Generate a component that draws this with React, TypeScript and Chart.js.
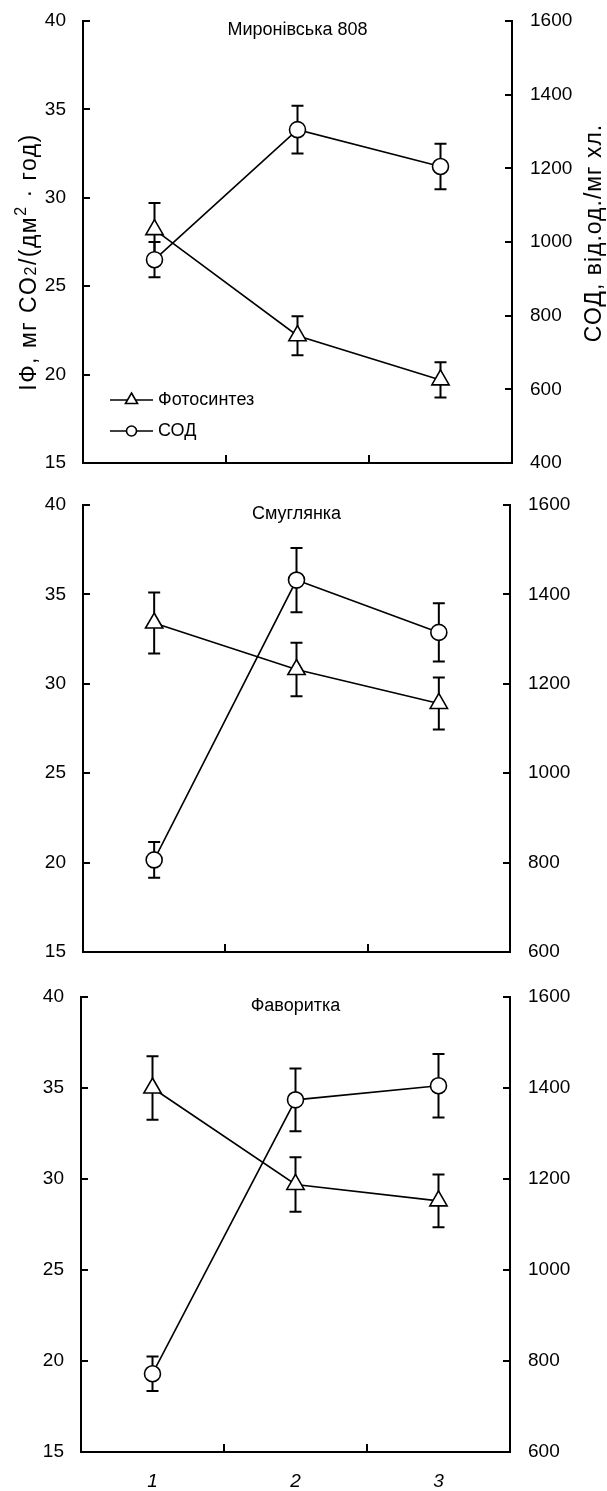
import React, { useEffect, useRef } from 'react';
import { Chart, registerables } from 'chart.js';

Chart.register(...registerables);

// ---------- data ----------
const categories = ['1', '2', '3'];
const panelTitles = ['Миронівська 808', 'Смуглянка', 'Фаворитка'];
const legendLabels = ['Фотосинтез', 'СОД'];
const leftAxisTitleParts = ['ІФ, мг CO', '2', '/(дм', '2', ' · год)'];
const rightAxisTitle = 'СОД, від.од./мг хл.';

const leftTicks = [15, 20, 25, 30, 35, 40];
const rightTicksTop = [400, 600, 800, 1000, 1200, 1400, 1600];
const rightTicksLower = [600, 800, 1000, 1200, 1400, 1600];

const photoMyr = [28.2, 22.2, 19.7];
const photoMyrErr = [1.5, 1.1, 1.0];
const sodMyr = [952, 1305, 1205];
const sodMyrErr = [48, 65, 62];

const photoSmu = [33.4, 30.8, 28.9];
const photoSmuErr = [1.7, 1.5, 1.45];
const sodSmu = [806, 1432, 1315];
const sodSmuErr = [40, 72, 65];

const photoFav = [35.0, 29.7, 28.8];
const photoFavErr = [1.75, 1.5, 1.45];
const sodFav = [772, 1374, 1405];
const sodFavErr = [38, 69, 70];

// ---------- layout ----------
const FONT = '"Liberation Sans", Arial, sans-serif';
const W = 607;

type Panel = {
  title: string;
  photo: number[];
  photoErr: number[];
  sod: number[];
  sodErr: number[];
  rightTicks: number[];
  top: number;
  height: number;
  areaTop: number;
  areaBottom: number;
  areaLeft: number;
  areaRight: number;
  showX: boolean;
  first: boolean;
};

const panels: Panel[] = [
  {
    title: panelTitles[0], photo: photoMyr, photoErr: photoMyrErr, sod: sodMyr, sodErr: sodMyrErr,
    rightTicks: rightTicksTop, top: 0, height: 485, areaTop: 21, areaBottom: 463, areaLeft: 83, areaRight: 512,
    showX: false, first: true,
  },
  {
    title: panelTitles[1], photo: photoSmu, photoErr: photoSmuErr, sod: sodSmu, sodErr: sodSmuErr,
    rightTicks: rightTicksLower, top: 485, height: 490, areaTop: 20, areaBottom: 467, areaLeft: 83, areaRight: 510,
    showX: false, first: false,
  },
  {
    title: panelTitles[2], photo: photoFav, photoErr: photoFavErr, sod: sodFav, sodErr: sodFavErr,
    rightTicks: rightTicksLower, top: 975, height: 516, areaTop: 22, areaBottom: 477, areaLeft: 81, areaRight: 510,
    showX: true, first: false,
  },
];

// ---------- plugins ----------
const errorBarPlugin = {
  id: 'errorBars',
  beforeDatasetsDraw(chart: any) {
    const ctx = chart.ctx;
    chart.data.datasets.forEach((ds: any, i: number) => {
      const meta = chart.getDatasetMeta(i);
      const ys = chart.scales[ds.yAxisID];
      meta.data.forEach((pt: any, j: number) => {
        const v = ds.data[j];
        const e = ds.errors[j];
        const x = pt.x;
        const y1 = ys.getPixelForValue(v + e);
        const y2 = ys.getPixelForValue(v - e);
        ctx.save();
        ctx.strokeStyle = '#000';
        ctx.lineWidth = 2;
        ctx.beginPath();
        ctx.moveTo(x, y1);
        ctx.lineTo(x, y2);
        ctx.moveTo(x - 6, y1);
        ctx.lineTo(x + 6, y1);
        ctx.moveTo(x - 6, y2);
        ctx.lineTo(x + 6, y2);
        ctx.stroke();
        ctx.restore();
      });
    });
  },
};

function drawMarker(ctx: CanvasRenderingContext2D, style: string, x: number, y: number, r: number) {
  ctx.beginPath();
  if (style === 'triangle') {
    ctx.moveTo(x, y - r);
    ctx.lineTo(x + r * 0.866, y + r * 0.5);
    ctx.lineTo(x - r * 0.866, y + r * 0.5);
    ctx.closePath();
  } else {
    ctx.arc(x, y, r, 0, Math.PI * 2);
  }
  ctx.fillStyle = '#fff';
  ctx.fill();
  ctx.stroke();
}

function makeDecorPlugin(p: Panel) {
  return {
    id: 'decor',
    afterDraw(chart: any) {
      const ctx: CanvasRenderingContext2D = chart.ctx;
      const { left, right, top, bottom } = chart.chartArea;
      const y = chart.scales.y;
      const y1 = chart.scales.y1;
      const x = chart.scales.x;
      const TL = 7;
      ctx.save();
      ctx.strokeStyle = '#000';
      ctx.lineWidth = 2;
      ctx.beginPath();
      y.ticks.forEach((t: any) => {
        const py = Math.round(y.getPixelForValue(t.value));
        ctx.moveTo(left, py);
        ctx.lineTo(left + TL, py);
      });
      y1.ticks.forEach((t: any) => {
        const py = Math.round(y1.getPixelForValue(t.value));
        ctx.moveTo(right, py);
        ctx.lineTo(right - TL, py);
      });
      for (let i = 0; i < categories.length - 1; i++) {
        const px = Math.round((x.getPixelForValue(i) + x.getPixelForValue(i + 1)) / 2);
        ctx.moveTo(px, bottom);
        ctx.lineTo(px, bottom - TL - 1);
      }
      ctx.stroke();

      // panel title
      ctx.fillStyle = '#000';
      ctx.font = `18px ${FONT}`;
      ctx.textAlign = 'center';
      ctx.textBaseline = 'middle';
      ctx.fillText(p.title, (left + right) / 2, top + 9);

      if (p.first) {
        // legend
        const rows = [
          { y: 400, style: 'triangle', r: 7 },
          { y: 431, style: 'circle', r: 5 },
        ];
        rows.forEach((row, i) => {
          ctx.lineWidth = 1.6;
          ctx.beginPath();
          ctx.moveTo(110, row.y);
          ctx.lineTo(153, row.y);
          ctx.stroke();
          drawMarker(ctx, row.style, 131.5, row.y, row.r);
          ctx.fillStyle = '#000';
          ctx.font = `18px ${FONT}`;
          ctx.textAlign = 'left';
          ctx.textBaseline = 'middle';
          ctx.fillText(legendLabels[i], 158, row.y);
        });

        // left axis title (rich text, rotated)
        const big = 23;
        const small = 16;
        const parts = [
          { t: leftAxisTitleParts[0], s: big, dy: 0 },
          { t: leftAxisTitleParts[1], s: small, dy: 0 },
          { t: leftAxisTitleParts[2], s: big, dy: 0 },
          { t: leftAxisTitleParts[3], s: small, dy: -10 },
          { t: leftAxisTitleParts[4], s: big, dy: 0 },
        ];
        const c: any = ctx;
        c.letterSpacing = '1.5px';
        let total = 0;
        parts.forEach((pt) => {
          ctx.font = `${pt.s}px ${FONT}`;
          total += ctx.measureText(pt.t).width;
        });
        ctx.save();
        ctx.translate(28, 262);
        ctx.rotate(-Math.PI / 2);
        ctx.textAlign = 'left';
        ctx.textBaseline = 'alphabetic';
        let cx = -total / 2;
        parts.forEach((pt) => {
          ctx.font = `${pt.s}px ${FONT}`;
          ctx.fillText(pt.t, cx, 8 + pt.dy);
          cx += ctx.measureText(pt.t).width;
        });
        ctx.restore();

        // right axis title
        ctx.save();
        c.letterSpacing = '1px';
        ctx.translate(595, 233);
        ctx.rotate(-Math.PI / 2);
        ctx.font = `23px ${FONT}`;
        ctx.textAlign = 'center';
        ctx.textBaseline = 'middle';
        ctx.fillText(rightAxisTitle, 0, 0);
        ctx.restore();
        c.letterSpacing = '0px';
      }
      ctx.restore();
    },
  };
}

function PanelChart({ p }: { p: Panel }) {
  const ref = useRef<HTMLCanvasElement | null>(null);
  useEffect(() => {
    if (!ref.current) return;
    const tickFont = { family: FONT, size: 19 };
    const chart = new Chart(ref.current, {
      type: 'line',
      data: {
        labels: categories,
        datasets: [
          {
            label: legendLabels[0],
            data: p.photo,
            errors: p.photoErr,
            yAxisID: 'y',
            borderColor: '#000',
            borderWidth: 1.6,
            pointStyle: 'triangle',
            pointRadius: 10,
            pointBackgroundColor: '#fff',
            pointBorderColor: '#000',
            pointBorderWidth: 1.6,
            tension: 0,
            fill: false,
          } as any,
          {
            label: legendLabels[1],
            data: p.sod,
            errors: p.sodErr,
            yAxisID: 'y1',
            borderColor: '#000',
            borderWidth: 1.6,
            pointStyle: 'circle',
            pointRadius: 8,
            pointBackgroundColor: '#fff',
            pointBorderColor: '#000',
            pointBorderWidth: 1.6,
            tension: 0,
            fill: false,
          } as any,
        ],
      },
      options: {
        responsive: false,
        animation: false,
        events: [],
        layout: { padding: { top: p.areaTop, left: 0, right: 0, bottom: 0 } },
        plugins: {
          legend: { display: false },
          tooltip: { enabled: false },
          title: { display: false },
        },
        scales: {
          x: {
            type: 'category',
            offset: true,
            grid: { display: false, drawTicks: false },
            border: { display: true, color: '#000', width: 2 },
            ticks: {
              display: p.showX,
              color: '#000',
              font: { family: FONT, size: 19, style: 'italic' },
              padding: 18,
              maxRotation: 0,
            },
            afterFit: (s: any) => {
              s.height = p.height - p.areaBottom;
              s.paddingLeft = 0;
              s.paddingRight = 0;
            },
          },
          y: {
            position: 'left',
            min: leftTicks[0],
            max: leftTicks[leftTicks.length - 1],
            grid: { display: false, drawTicks: false },
            border: { display: true, color: '#000', width: 2 },
            ticks: {
              stepSize: leftTicks[1] - leftTicks[0],
              color: '#000',
              font: tickFont,
              padding: 17,
              callback: (v: any) => String(v),
            },
            afterFit: (s: any) => {
              s.width = p.areaLeft;
              s.paddingTop = 0;
              s.paddingBottom = 0;
            },
          },
          y1: {
            position: 'right',
            min: p.rightTicks[0],
            max: p.rightTicks[p.rightTicks.length - 1],
            grid: { display: false, drawTicks: false },
            border: { display: true, color: '#000', width: 2 },
            ticks: {
              stepSize: p.rightTicks[1] - p.rightTicks[0],
              color: '#000',
              font: tickFont,
              padding: 18,
              callback: (v: any) => String(v),
            },
            afterFit: (s: any) => {
              s.width = W - p.areaRight;
              s.paddingTop = 0;
              s.paddingBottom = 0;
            },
          },
        },
      } as any,
      plugins: [errorBarPlugin, makeDecorPlugin(p)],
    });
    return () => chart.destroy();
  }, [p]);
  return (
    <canvas
      ref={ref}
      width={W}
      height={p.height}
      style={{ position: 'absolute', left: 0, top: p.top, width: W, height: p.height, display: 'block' }}
    />
  );
}

export default function App() {
  return (
    <div style={{ position: 'absolute', left: 0, top: 0, width: W, height: 1491, background: '#fff' }}>
      {panels.map((p, i) => (
        <PanelChart key={i} p={p} />
      ))}
    </div>
  );
}
